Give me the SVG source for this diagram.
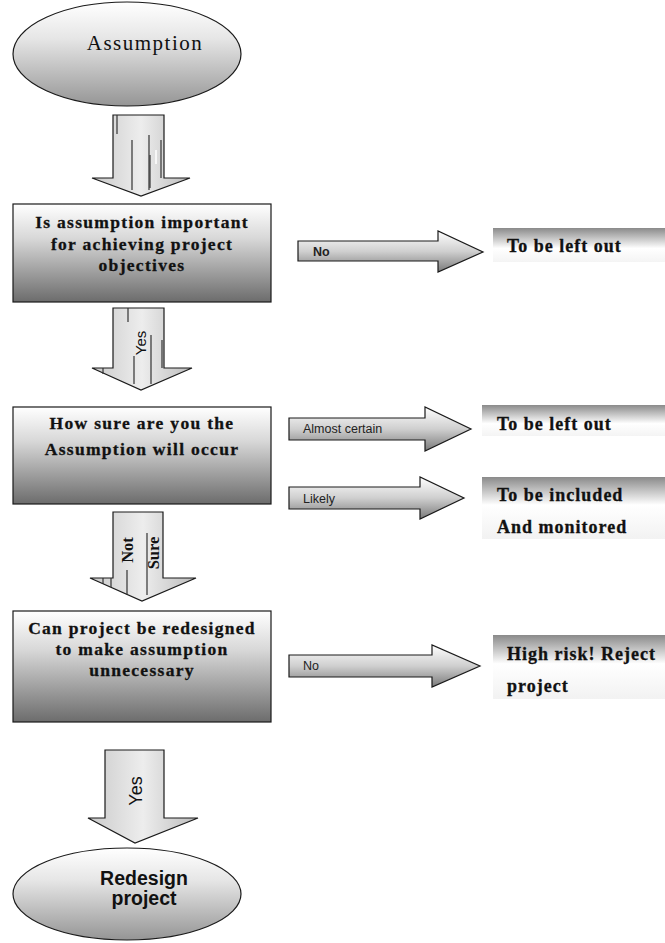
<svg xmlns="http://www.w3.org/2000/svg" width="665" height="943" viewBox="0 0 665 943">
  <style>
    .shape { stroke: #1a1a1a; stroke-width: 1.2; }
    .q { font-family: "Liberation Serif", "Times New Roman", serif; font-weight: bold; font-size: 17.5px; letter-spacing: 1.3px; fill: #111; text-anchor: middle; stroke: #111; stroke-width: 0.3; }
    .r { font-family: "Liberation Serif", "Times New Roman", serif; font-weight: bold; font-size: 18px; letter-spacing: 1px; fill: #111; stroke: #111; stroke-width: 0.3; }
    .lbl { font-family: "Liberation Sans", Arial, sans-serif; font-size: 12.5px; fill: #222; }
    .vt { font-family: "Liberation Sans", Arial, sans-serif; fill: #111; text-anchor: middle; }
    .vs { font-family: "Liberation Serif", "Times New Roman", serif; font-weight: bold; font-size: 16.5px; fill: #111; text-anchor: middle; }
    .streak { stroke: #333; stroke-width: 1.2; }
    .streakl { stroke: #fff; stroke-width: 1.5; }
  </style>
  <defs>
    <linearGradient id="gEllipse" x1="0" y1="0" x2="0" y2="1">
      <stop offset="0" stop-color="#ffffff"/>
      <stop offset="0.35" stop-color="#e6e6e6"/>
      <stop offset="1" stop-color="#959595"/>
    </linearGradient>
    <linearGradient id="gBox" x1="0" y1="0" x2="0" y2="1">
      <stop offset="0" stop-color="#ffffff"/>
      <stop offset="0.35" stop-color="#d8d8d8"/>
      <stop offset="1" stop-color="#6c6c6c"/>
    </linearGradient>
    <linearGradient id="gSide" x1="0" y1="0" x2="0" y2="1">
      <stop offset="0" stop-color="#ffffff"/>
      <stop offset="0.5" stop-color="#cfcfcf"/>
      <stop offset="1" stop-color="#7a7a7a"/>
    </linearGradient>
    <linearGradient id="gOut" x1="0" y1="0" x2="0" y2="1">
      <stop offset="0" stop-color="#8a8a8a"/>
      <stop offset="0.6" stop-color="#ffffff"/>
      <stop offset="1" stop-color="#f4f4f4"/>
    </linearGradient>
    <linearGradient id="gOut2" x1="0" y1="0" x2="0" y2="1">
      <stop offset="0" stop-color="#8a8a8a"/>
      <stop offset="0.45" stop-color="#ffffff"/>
      <stop offset="1" stop-color="#f2f2f2"/>
    </linearGradient>
    <linearGradient id="gDown" x1="0" y1="0" x2="1" y2="0">
      <stop offset="0" stop-color="#cacaca"/>
      <stop offset="0.5" stop-color="#ededed"/>
      <stop offset="1" stop-color="#bcbcbc"/>
    </linearGradient>
  </defs>

  <!-- start terminator -->
  <g id="assumption">
    <ellipse class="shape" cx="127" cy="54" rx="114" ry="52" fill="url(#gEllipse)"/>
    <text x="145" y="50" font-family="Liberation Serif, Times New Roman, serif" font-size="21" letter-spacing="1.5" fill="#111" text-anchor="middle">Assumption</text>
  </g>

  <!-- decision boxes -->
  <g id="important">
    <rect class="shape" x="13" y="204" width="258" height="98" fill="url(#gBox)"/>
    <text class="q" x="142" y="228">Is assumption important</text>
    <text class="q" x="142" y="250">for achieving project</text>
    <text class="q" x="142" y="271">objectives</text>
  </g>

  <g id="how-sure">
    <rect class="shape" x="13" y="407" width="258" height="97" fill="url(#gBox)"/>
    <text class="q" x="142" y="429">How sure are you the</text>
    <text class="q" x="142" y="455">Assumption will occur</text>
  </g>

  <g id="redesign-q">
    <rect class="shape" x="13" y="611" width="258" height="111" fill="url(#gBox)"/>
    <text class="q" x="142" y="634">Can project be redesigned</text>
    <text class="q" x="142" y="655">to make assumption</text>
    <text class="q" x="142" y="676">unnecessary</text>
  </g>

  <!-- outcome panels -->
  <g id="left-out-1">
    <rect x="493" y="228" width="172" height="34" fill="url(#gOut)"/>
    <text class="r" x="507" y="252">To be left out</text>
  </g>

  <g id="left-out-2">
    <rect x="482" y="405" width="183" height="31" fill="url(#gOut)"/>
    <text class="r" x="497" y="430">To be left out</text>
  </g>

  <g id="included">
    <rect x="482" y="477" width="183" height="62" fill="url(#gOut2)"/>
    <text class="r" x="497" y="501">To be included</text>
    <text class="r" x="497" y="533">And monitored</text>
  </g>

  <g id="reject">
    <rect x="493" y="635" width="172" height="64" fill="url(#gOut2)"/>
    <text class="r" x="507" y="660">High risk! Reject</text>
    <text class="r" x="507" y="692">project</text>
  </g>

  <!-- end terminator -->
  <g id="redesign">
    <ellipse class="shape" cx="127" cy="894" rx="114" ry="46" fill="url(#gEllipse)"/>
    <text x="144" y="885" font-family="Liberation Sans, Arial, sans-serif" font-weight="bold" font-size="19.5" fill="#111" text-anchor="middle">Redesign</text>
    <text x="144" y="905" font-family="Liberation Sans, Arial, sans-serif" font-weight="bold" font-size="19.5" fill="#111" text-anchor="middle">project</text>
  </g>

  <!-- block arrows -->
  <g id="connectors">
    <!-- assumption -> important -->
    <path class="shape" d="M113,115 H164 V178 H190 L141,196 L92,178 H113 Z" fill="url(#gDown)"/>
    <line class="streak" x1="117" y1="115" x2="117" y2="134"/>
    <line class="streak" x1="132" y1="140" x2="132" y2="190"/>
    <line class="streak" x1="149" y1="135" x2="149" y2="190"/>
    <line class="streak" x1="150" y1="155" x2="150" y2="188"/>
    <line class="streak" x1="161" y1="140" x2="161" y2="178"/>
    <line class="streakl" x1="156" y1="150" x2="156" y2="164"/>

    <!-- important -> how sure (Yes) -->
    <path class="shape" d="M113,308 H164 V368 H192 L141,390 L92,368 H113 Z" fill="url(#gDown)"/>
    <line class="streak" x1="128" y1="308" x2="128" y2="322"/>
    <line class="streak" x1="134" y1="356" x2="134" y2="384"/>
    <line class="streak" x1="151" y1="335" x2="151" y2="384"/>
    <line class="streak" x1="162" y1="340" x2="162" y2="368"/>
    <line class="streak" x1="103" y1="368" x2="103" y2="374"/>
    <text class="vt" font-size="15" transform="translate(146,343) rotate(-90)">Yes</text>

    <!-- how sure -> redesign question (Not Sure) -->
    <path class="shape" d="M113,512 H163 V578 H196 L142,601 L90,578 H113 Z" fill="url(#gDown)"/>
    <line class="streak" x1="103" y1="578" x2="103" y2="584"/>
    <line class="streak" x1="111" y1="578" x2="111" y2="587"/>
    <line class="streak" x1="127" y1="570" x2="127" y2="595"/>
    <line class="streak" x1="147" y1="533" x2="147" y2="595"/>
    <text class="vs" transform="translate(133,550) rotate(-90)">Not</text>
    <text class="vs" transform="translate(159,553) rotate(-90)">Sure</text>

    <!-- redesign question -> redesign (Yes) -->
    <path class="shape" d="M105,750 H164 V818 H198 L135,843 L88,818 H105 Z" fill="url(#gDown)"/>
    <text class="vt" font-size="18" transform="translate(142,791) rotate(-90)">Yes</text>

    <!-- No -> left out -->
    <path class="shape" d="M298,241 H438 V231 L483,252 L438,272 V261 H298 Z" fill="url(#gSide)"/>
    <text class="lbl" x="313" y="256" font-weight="bold" font-size="11">No</text>

    <!-- Almost certain -> left out -->
    <path class="shape" d="M289,418 H425 V407 L471,429 L425,451 V440 H289 Z" fill="url(#gSide)"/>
    <text class="lbl" x="303" y="433">Almost certain</text>

    <!-- Likely -> included -->
    <path class="shape" d="M289,487 H420 V477 L464,498 L420,519 V509 H289 Z" fill="url(#gSide)"/>
    <text class="lbl" x="303" y="503">Likely</text>

    <!-- No -> reject -->
    <path class="shape" d="M289,655 H432 V645 L480,666 L432,687 V677 H289 Z" fill="url(#gSide)"/>
    <text class="lbl" x="303" y="670" font-size="12">No</text>
  </g>
</svg>
